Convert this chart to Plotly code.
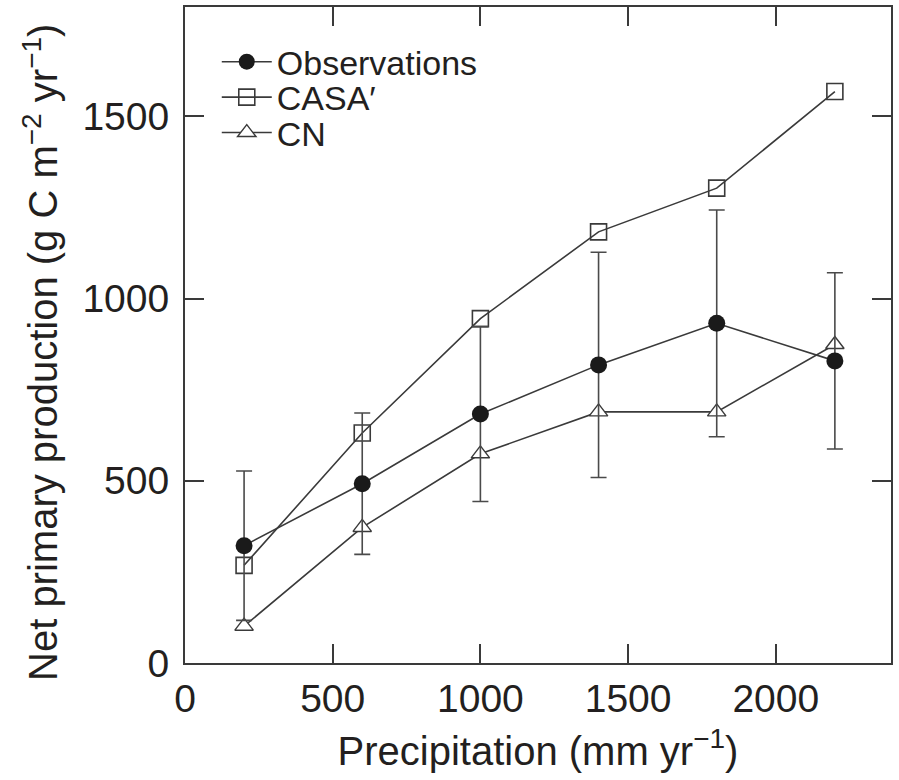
import plotly.graph_objects as go

precip = [200, 600, 1000, 1400, 1800, 2200]
obs = [322, 492, 683, 818, 932, 829]
obs_err = [205, 194, 240, 309, 311, 242]
casa = [268, 631, 945, 1183, 1303, 1568]
cn = [101, 372, 574, 689, 689, 874]

x_ticks = [0, 500, 1000, 1500, 2000]
y_ticks = [0, 500, 1000, 1500]

FONT = "Liberation Sans, Arial, Helvetica, sans-serif"
INK = "#231f20"
LINE = "#3a3a3a"

fig = go.Figure()

fig.add_trace(go.Scatter(
    x=precip, y=casa, name="CASA′", mode="lines+markers",
    line=dict(color=LINE, width=1.6),
    marker=dict(symbol="square-open", size=16, color=LINE, line=dict(width=1.6, color=LINE)),
    legend="legend2",
))
fig.add_trace(go.Scatter(
    x=precip, y=cn, name="CN", mode="lines+markers",
    line=dict(color=LINE, width=1.6),
    marker=dict(symbol="triangle-up", size=16, color="white", line=dict(width=1.4, color=LINE)),
    legend="legend3",
))
fig.add_trace(go.Scatter(
    x=precip, y=obs, name="Observations", mode="lines+markers",
    line=dict(color=LINE, width=1.6),
    marker=dict(symbol="circle", size=17, color="#1a1a1a"),
    error_y=dict(type="data", array=obs_err, visible=True, color="#4a4a4a", thickness=1.6, width=8),
    legend="legend",
))

axis_common = dict(
    showline=True, linecolor=LINE, linewidth=2, mirror="ticks",
    ticks="inside", ticklen=19, tickwidth=1.6, tickcolor=LINE,
    showgrid=False, zeroline=False,
    tickfont=dict(family=FONT, size=39, color=INK),
)

fig.update_xaxes(
    range=[0, 2390], tickvals=x_ticks, ticktext=[str(v) for v in x_ticks],
    title_text="Precipitation (mm yr<sup>−1</sup>)", title_standoff=18,
    title_font=dict(family=FONT, size=40, color=INK),
    **axis_common,
)
fig.update_yaxes(
    range=[0, 1800], tickvals=y_ticks, ticktext=[str(v) for v in y_ticks],
    ticklabelstandoff=6,
    **axis_common,
)

fig.add_annotation(
    text="Net primary production (g C m<sup>−2</sup> yr<sup>−1</sup>)",
    xref="paper", yref="paper", x=-0.205, y=0.473,
    xanchor="center", yanchor="middle", textangle=-90, showarrow=False,
    font=dict(family=FONT, size=40, color=INK),
)

leg_common = dict(
    x=0.045, xanchor="left", yanchor="middle",
    font=dict(family=FONT, size=34, color=INK),
    bgcolor="rgba(0,0,0,0)", itemwidth=50,
)

fig.update_layout(
    width=899, height=780,
    margin=dict(l=185, r=8, t=5, b=117),
    paper_bgcolor="white", plot_bgcolor="white",
    font=dict(family=FONT, color=INK),
    legend=dict(y=0.916, **leg_common),
    legend2=dict(y=0.862, **leg_common),
    legend3=dict(y=0.808, **leg_common),
    showlegend=True,
)

fig.write_html("out.html")
